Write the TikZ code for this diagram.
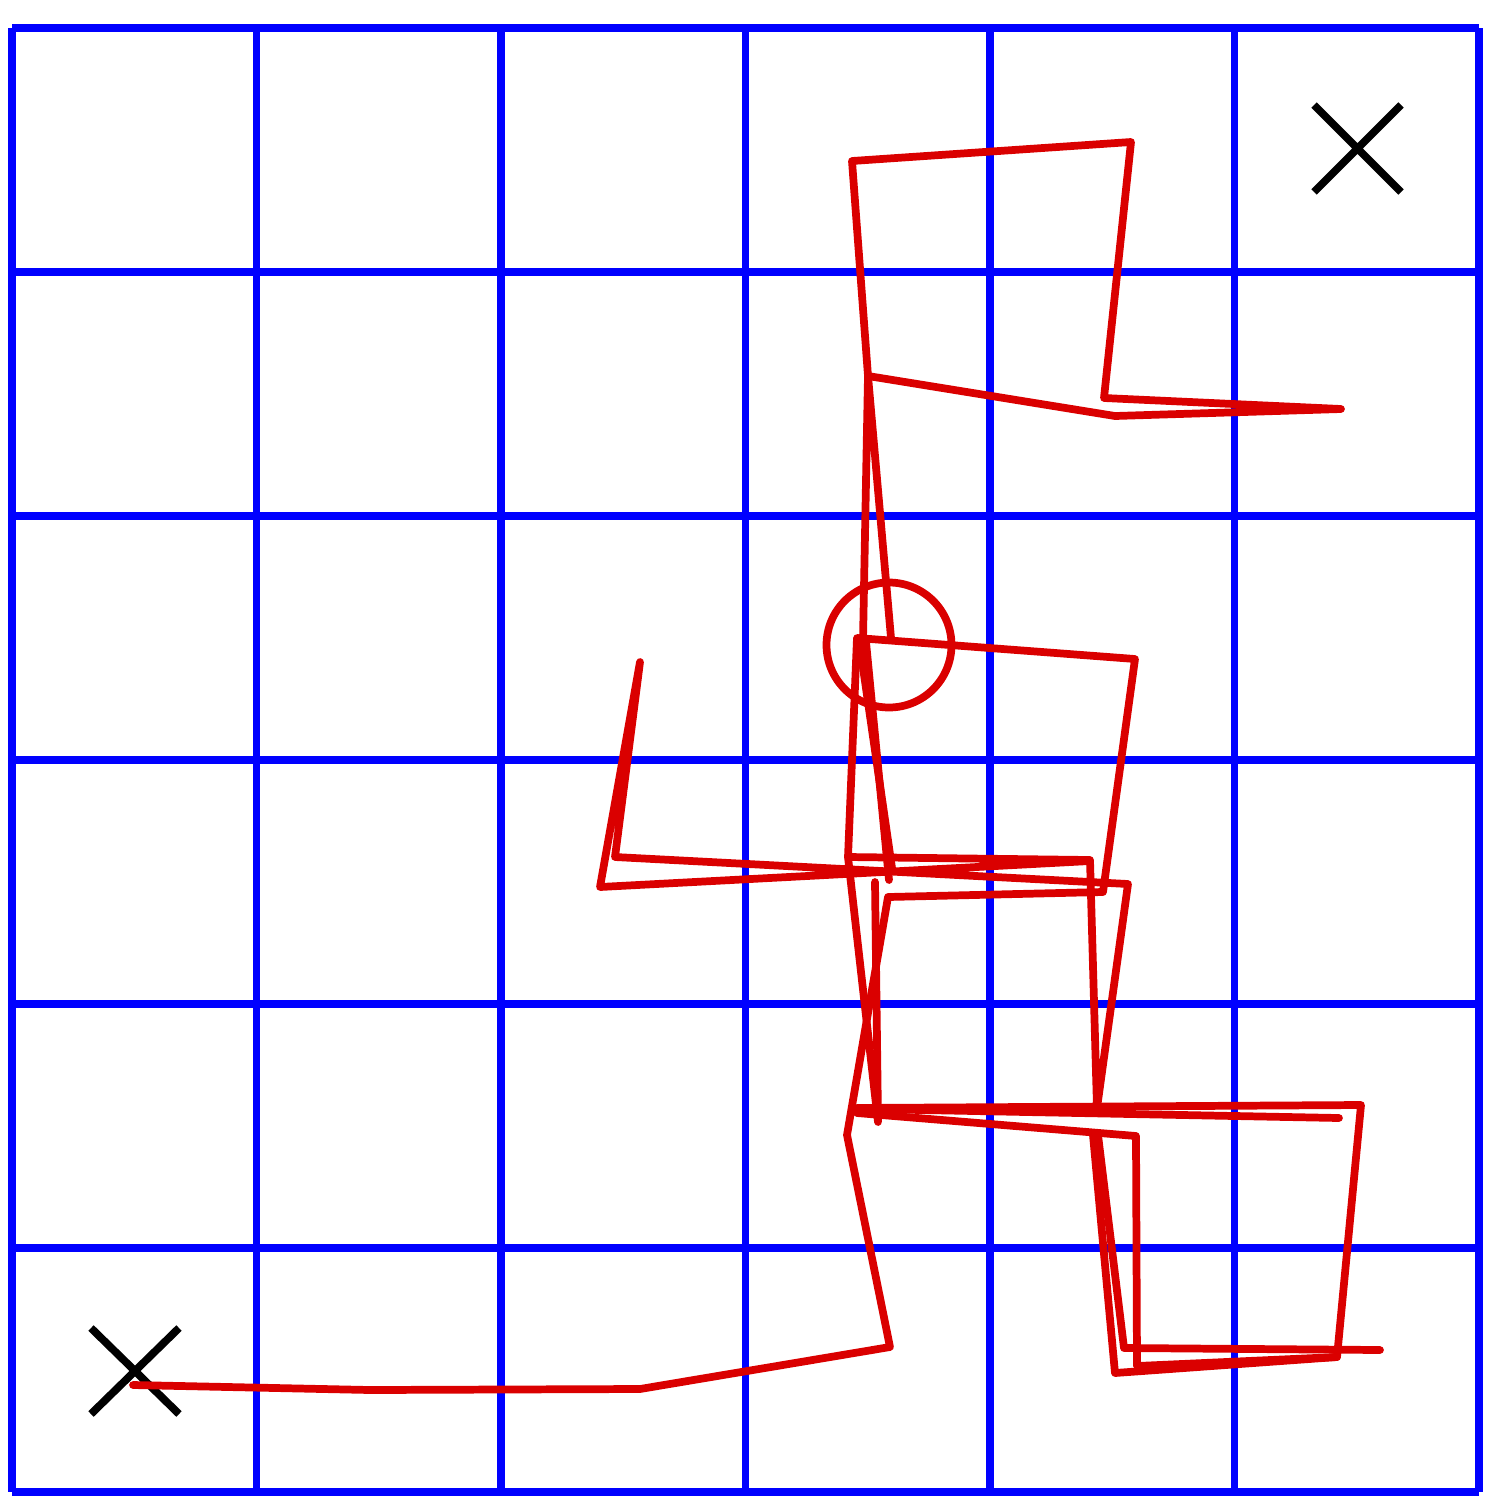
\documentclass[tikz,border=0pt]{standalone}
\begin{document}
\begin{tikzpicture}[x=0.1mm,y=-0.1mm,
  gridline/.style={draw={rgb,255:red,0;green,0;blue,255},line width=2.1pt},
  trail/.style={draw={rgb,255:red,218;green,0;blue,0},line width=2.2pt,line join=round,line cap=round},
  cross/.style={draw=black,line width=2.2pt}]
\useasboundingbox (0,0) rectangle (1508,1508);
% grid
\foreach \x in {12,256.5,501,745.5,990,1234.5,1479}
  \draw[gridline] (\x,28) -- (\x,1492);
\foreach \y in {28,272,516,760,1004,1248,1492}
  \draw[gridline] (12,\y) -- (1479,\y);
% crosses
\draw[cross] (1314,105) -- (1401,192) (1314,192) -- (1401,105);
\draw[cross] (91,1328) -- (179,1414) (91,1414) -- (179,1328);
% trails
\draw[trail] (133,1385) -- (370,1390) -- (640,1389) -- (890,1347) -- (847,1135)
  -- (888,897) -- (1103,892) -- (1135,659) -- (857,638) -- (848,857) -- (1090,860)
  -- (1097,1108) -- (1128,884) -- (615,857) -- (640,662) -- (600,887) -- (1090,861);
\draw[trail] (863,640) -- (868,376) -- (852,161) -- (1131,142) -- (1104,398)
  -- (1341,409) -- (1115,416) -- (868,376) -- (891,638);
\draw[trail] (859,640) -- (892,868);
\draw[trail] (866,642) -- (889,880);
\draw[trail] (848,857) -- (878,1122);
\draw[trail] (875,882) -- (878,1120);
\draw[trail] (857,1108) -- (1361,1105) -- (1337,1357) -- (1115,1373) -- (1093,1135);
\draw[trail] (857,1113) -- (1136,1136) -- (1137,1366) -- (1337,1357);
\draw[trail] (1098,1135) -- (1124,1348) -- (1380,1350);
\draw[trail] (870,1109) -- (1339,1118);
\draw[trail] (889,645) circle[radius=62.5];
\end{tikzpicture}
\end{document}
